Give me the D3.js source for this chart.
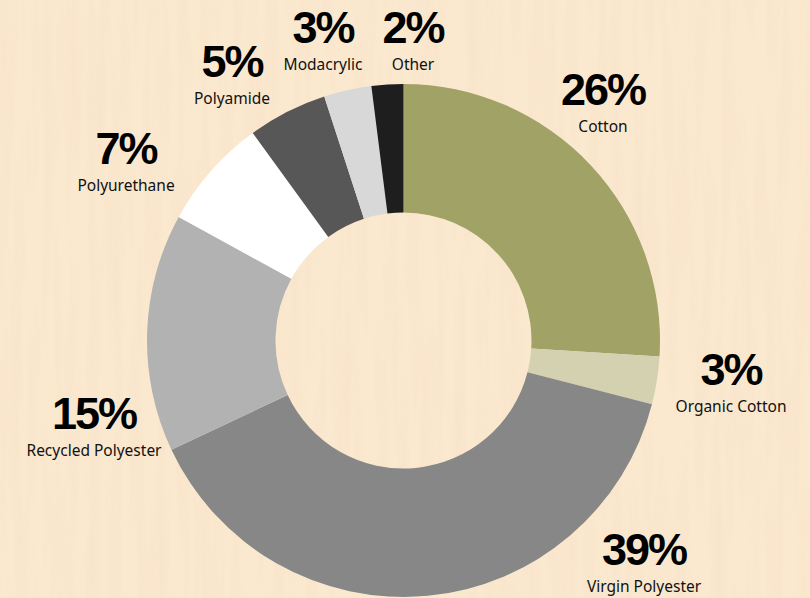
<!DOCTYPE html>
<html>
<head>
<meta charset="utf-8">
<script src="https://cdn.jsdelivr.net/npm/d3@7"></script>
<style>
  html, body { margin: 0; padding: 0; background: #f9e6cc; }
  svg { display: block; }
</style>
</head>
<body>
<div id="chart"></div>
<script>
// fibre composition, clockwise from 12 o'clock
const fibres = ["Cotton", "Organic Cotton", "Virgin Polyester", "Recycled Polyester",
                "Polyurethane", "Polyamide", "Modacrylic", "Other"]
const shares = [26, 3, 39, 15, 7, 5, 3, 2]
const colours = ["#a0a266", "#d3d1b0", "#878787", "#b2b2b2",
                 "#ffffff", "#575757", "#d8d8d8", "#1e1e1e"]

// label anchor points (centre x, baseline of the percentage)
const labelX = [603, 731, 644, 94, 126, 232, 323, 413]
const labelY = [105, 385, 565, 429, 164, 77, 43, 43]

const width = 810
const height = 598
const cx = 403.5, cy = 340.5
const outerR = 256.5, innerR = 128

const svg = d3.select("#chart").append("svg")
    .attr("width", width)
    .attr("height", height)

// wood-ish background
const defs = svg.append("defs")
const grain = defs.append("filter").attr("id", "grain")
    .attr("x", 0).attr("y", 0).attr("width", "100%").attr("height", "100%")
grain.append("feTurbulence")
    .attr("type", "fractalNoise")
    .attr("baseFrequency", "0.09 0.006")
    .attr("numOctaves", 3)
    .attr("seed", 4)
grain.append("feColorMatrix")
    .attr("type", "matrix")
    .attr("values", "0 0 0 0 0.88  0 0 0 0 0.68  0 0 0 0 0.48  0 0 0 -1.4 0.85")

svg.append("rect").attr("width", width).attr("height", height).attr("fill", "#fae8cf")
svg.append("rect").attr("width", width).attr("height", height)
    .attr("filter", "url(#grain)").attr("opacity", 0.3)

const data = fibres.map((f, i) => ({name: f, value: shares[i], colour: colours[i],
                                    lx: labelX[i], ly: labelY[i]}))

const pie = d3.pie().sort(null).value(d => d.value)
const arc = d3.arc().innerRadius(innerR).outerRadius(outerR)

const g = svg.append("g").attr("transform", "translate(" + cx + "," + cy + ")")

g.selectAll("path.slice")
    .data(pie(data))
    .enter().append("path")
    .attr("class", "slice")
    .attr("d", arc)
    .attr("fill", d => d.data.colour)

const labels = svg.selectAll("g.label")
    .data(data)
    .enter().append("g")
    .attr("class", "label")
    .attr("transform", d => "translate(" + d.lx + "," + d.ly + ")")

labels.append("text")
    .attr("text-anchor", "middle")
    .attr("font-family", "'Liberation Sans', Arial, sans-serif")
    .attr("font-weight", "bold")
    .attr("font-size", 45)
    .attr("letter-spacing", -2)
    .attr("fill", "#000")
    .text(d => d.value + "%")

labels.append("text")
    .attr("text-anchor", "middle")
    .attr("y", 26.5)
    .attr("font-family", "'Noto Sans', sans-serif")
    .attr("font-size", 15.5)
    .attr("fill", "#111")
    .text(d => d.name)
</script>
</body>
</html>
